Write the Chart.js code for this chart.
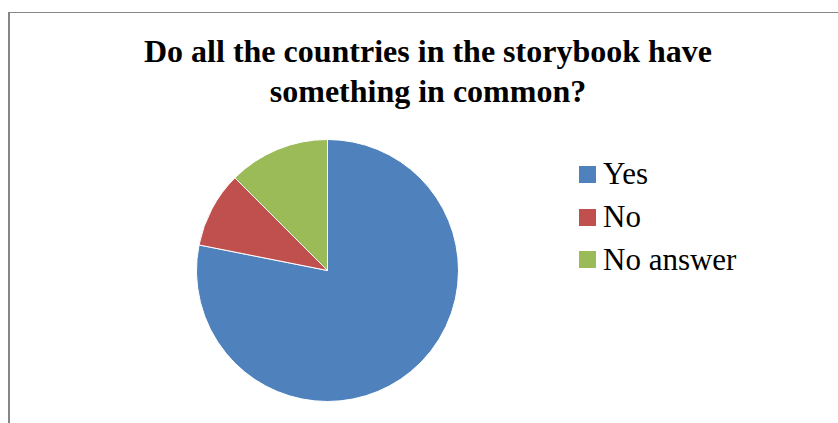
<!DOCTYPE html>
<html>
<head>
<meta charset="utf-8">
<script src="https://cdn.jsdelivr.net/npm/chart.js@4.4.1/dist/chart.umd.min.js"></script>
<style>
    body { margin: 0; width: 838px; height: 423px; overflow: hidden; background: #fff; }
    #marco {
        position: absolute; left: 8px; top: 12px; width: 840px; height: 430px;
        border-left: 2px solid #868686; border-top: 1.5px solid #868686;
    }
    #titulo {
        position: absolute; left: 0; top: 32px; width: 856px; text-align: center;
        font-family: "Liberation Serif", "Times New Roman", serif; font-weight: bold;
        font-size: 32px; line-height: 39.5px; color: #000;
    }
    #leyenda {
        position: absolute; left: 579px; top: 153px;
        font-family: "Liberation Serif", "Times New Roman", serif; font-size: 31px; color: #000;
    }
    .fila { display: flex; align-items: center; height: 42.8px; }
    .cuadro { width: 17px; height: 17px; margin-right: 7px; }
    #pie { position: absolute; left: 196px; top: 139px; }
</style>
</head>
<body>
<div id="marco"></div>
<div id="titulo">Do all the countries in the storybook have<br>something in common?</div>
<div id="leyenda"></div>
<canvas id="pie" width="263" height="263"></canvas>
<script>
// Datos del grafico
var categorias = ['Yes', 'No', 'No answer'];
var valores = [25, 3, 4];
var colores = ['#4F81BD', '#C0504D', '#9BBB59'];

// Leyenda en HTML a partir de las categorias
var leyenda = document.getElementById('leyenda');
for (var i = 0; i < categorias.length; i++) {
    var fila = document.createElement('div');
    fila.className = 'fila';
    var cuadro = document.createElement('div');
    cuadro.className = 'cuadro';
    cuadro.style.background = colores[i];
    var texto = document.createElement('span');
    texto.textContent = categorias[i];
    fila.appendChild(cuadro);
    fila.appendChild(texto);
    leyenda.appendChild(fila);
}

// Tarta
new Chart('pie', {
    type: 'pie',
    data: {
        labels: categorias,
        datasets: [{
            data: valores,
            backgroundColor: colores,
            borderColor: '#ffffff',
            borderWidth: 1,
            offset: 0,
            hoverOffset: 0
        }]
    },
    options: {
        responsive: false,
        animation: false,
        layout: { padding: 0 },
        plugins: {
            legend: { display: false },
            title: { display: false },
            tooltip: { enabled: false }
        }
    }
});
</script>
</body>
</html>
